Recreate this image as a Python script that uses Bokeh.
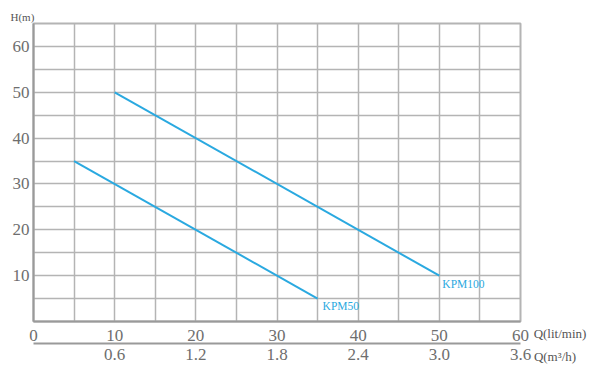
from bokeh.plotting import figure
from bokeh.models import Range1d, LinearAxis, FixedTicker
from bokeh.layouts import row
from bokeh.core.properties import value
from bokeh.embed import file_html
from bokeh.resources import INLINE

# Data
series_names = ["KPM100", "KPM50"]
kpm100_q = [10, 50]
kpm100_h = [50, 10]
kpm50_q = [5, 35]
kpm50_h = [35, 5]

q_lpm_ticks = [0, 10, 20, 30, 40, 50, 60]
q_m3h_ticks = [0.6, 1.2, 1.8, 2.4, 3.0, 3.6]
q_m3h_labels = ["0.6", "1.2", "1.8", "2.4", "3.0", "3.6"]
h_ticks = [10, 20, 30, 40, 50, 60]
grid_x = list(range(0, 65, 5))
grid_y = list(range(0, 70, 5))
unit_labels = ["Q(lit/min)", "Q(m³/h)"]

BLUE = "#2aa9e0"
GRID = "#b4b4b4"
AXIS = "#9a9a9a"
TXT = "#6e6e6e"
UNIT = "#555555"
SERIF = "Liberation Serif"


def plain_axis(ax, size, color, standoff):
    ax.major_tick_line_color = None
    ax.minor_tick_line_color = None
    ax.major_tick_out = 0
    ax.major_tick_in = 0
    ax.major_label_standoff = standoff
    ax.major_label_text_font = SERIF
    ax.major_label_text_font_size = size
    ax.major_label_text_color = color


H = 368
W_MAIN = 533
p = figure(width=W_MAIN, height=H, output_backend="svg", toolbar_location=None,
           x_range=Range1d(0, 60), y_range=Range1d(0, 65),
           min_border_left=33, min_border_right=W_MAIN - 520, min_border_top=23,
           min_border_bottom=H - 321)
p.extra_x_ranges = {"m3h": Range1d(0, 3.6)}
p.background_fill_color = "white"
p.border_fill_color = "white"
p.outline_line_color = GRID
p.outline_line_width = 2

p.title.text = "H(m)"
p.title.align = "left"
p.title.offset = -23
p.title.standoff = 2
p.title.text_font = SERIF
p.title.text_font_size = "11px"
p.title.text_font_style = "normal"
p.title.text_color = UNIT

p.xgrid.ticker = FixedTicker(ticks=grid_x)
p.ygrid.ticker = FixedTicker(ticks=grid_y)
for g in (p.xgrid, p.ygrid):
    g.grid_line_color = GRID
    g.grid_line_width = 1.5

# Primary axes
p.xaxis.ticker = FixedTicker(ticks=q_lpm_ticks)
p.yaxis.ticker = FixedTicker(ticks=h_ticks)
for ax, so in ((p.xaxis[0], 8), (p.yaxis[0], 4)):
    ax.axis_line_color = AXIS
    ax.axis_line_width = 2
    plain_axis(ax, "17px", TXT, so)

# Secondary axis (m3/h)
ax2 = LinearAxis(x_range_name="m3h", ticker=FixedTicker(ticks=q_m3h_ticks),
                 major_label_overrides={t: l for t, l in zip(q_m3h_ticks, q_m3h_labels)})
ax2.axis_line_color = AXIS
ax2.axis_line_width = 2
plain_axis(ax2, "17px", TXT, 5)
p.add_layout(ax2, "below")

# Curves
p.line(kpm100_q, kpm100_h, line_color=BLUE, line_width=2)
p.line(kpm50_q, kpm50_h, line_color=BLUE, line_width=2)

# Series labels at curve ends
p.text(x=[kpm100_q[-1], kpm50_q[-1]], y=[kpm100_h[-1], kpm50_h[-1]], text=series_names,
       x_offset=[3, 5], y_offset=[8, 7], text_font=value(SERIF), text_font_size="11.5px",
       text_color=BLUE, text_align="left", text_baseline="middle")

# Side panel: its bottom axes carry the unit labels
W_SIDE = 590 - W_MAIN
s = figure(width=W_SIDE, height=H, output_backend="svg", toolbar_location=None,
           x_range=Range1d(0, W_SIDE), y_range=Range1d(0, 1),
           x_axis_type=None, y_axis_type=None,
           min_border_left=0, min_border_right=0, min_border_top=0, min_border_bottom=0)
s.outline_line_color = None
s.background_fill_color = "white"
s.border_fill_color = "white"
s.grid.visible = False
unit_centers = [26.5, 21.5]
unit_standoffs = [4, 5]
for c, lab, so in zip(unit_centers, unit_labels, unit_standoffs):
    ua = LinearAxis(ticker=FixedTicker(ticks=[c]), major_label_overrides={c: lab})
    ua.axis_line_color = None
    plain_axis(ua, "13px", UNIT, so)
    s.add_layout(ua, "below")

layout = row(p, s, spacing=0)
open("out.html", "w").write(file_html(layout, INLINE))
